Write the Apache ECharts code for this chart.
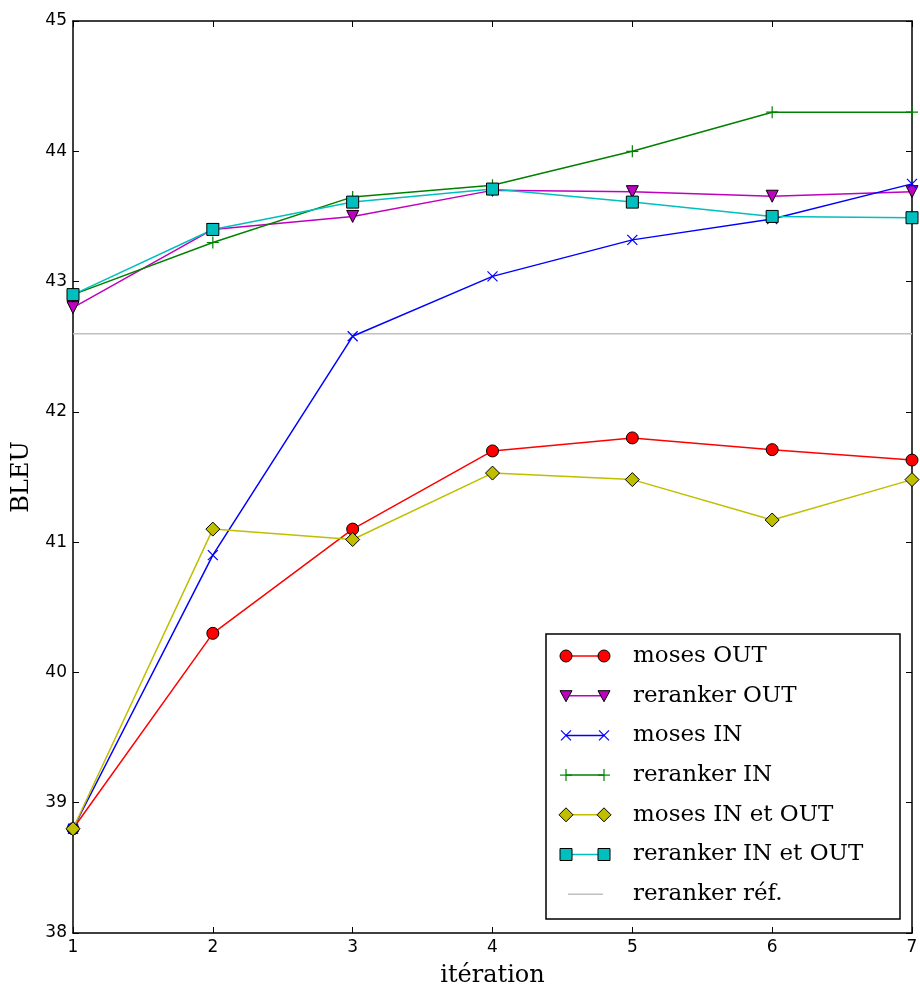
<!DOCTYPE html>
<html>
<head>
<meta charset="utf-8">
<script src="https://cdn.jsdelivr.net/npm/echarts@6/dist/echarts.min.js"></script>
<style>html,body{margin:0;padding:0;background:#fff}#c{width:920px;height:994px}</style>
</head>
<body>
<div id="c"></div>
<script>
const iterations = [1, 2, 3, 4, 5, 6, 7];
const mosesOut = [38.8, 40.3, 41.1, 41.7, 41.8, 41.71, 41.63];
const rerankerOut = [42.8, 43.4, 43.5, 43.7, 43.69, 43.655, 43.69];
const mosesIn = [38.8, 40.9, 42.58, 43.04, 43.32, 43.48, 43.75];
const rerankerIn = [42.9, 43.3, 43.65, 43.74, 44.0, 44.3, 44.3];
const mosesInOut = [38.8, 41.1, 41.02, 41.53, 41.48, 41.17, 41.48];
const rerankerInOut = [42.9, 43.4, 43.61, 43.71, 43.61, 43.5, 43.49];
const rerankerRef = [42.6, 42.6, 42.6, 42.6, 42.6, 42.6, 42.6];
const seriesNames = ['moses OUT', 'reranker OUT', 'moses IN', 'reranker IN', 'moses IN et OUT', 'reranker IN et OUT', 'reranker réf.'];
const xTitle = 'itération';
const yTitle = 'BLEU';

const styles = [
  {color: '#ff0000', symbol: 'circle', size: 12, kind: 'circle'},
  {color: '#bf00bf', symbol: 'triangle', size: 12, rotate: 180, kind: 'tri'},
  {color: '#0000ff', symbol: 'path://M0,0L10,10M10,0L0,10', size: 10, kind: 'x', stroke: true},
  {color: '#008000', symbol: 'path://M5,0L5,10M0,5L10,5', size: 12, kind: 'plus', stroke: true},
  {color: '#bfbf00', symbol: 'diamond', size: 14, kind: 'diamond'},
  {color: '#00bfbf', symbol: 'rect', size: 12, kind: 'square'},
  {color: '#c0c0c0', symbol: 'none', size: 0, kind: 'none'}
];
const dataSets = [mosesOut, rerankerOut, mosesIn, rerankerIn, mosesInOut, rerankerInOut, rerankerRef];

const series = dataSets.map((arr, i) => {
  const s = styles[i];
  return {
    name: seriesNames[i],
    type: 'line',
    data: arr.map((v, j) => [iterations[j], v]),
    symbol: s.symbol,
    symbolSize: s.size,
    symbolRotate: s.rotate || 0,
    showSymbol: s.symbol !== 'none',
    lineStyle: {color: s.color, width: 1.5},
    itemStyle: s.stroke ? {color: s.color, borderColor: s.color, borderWidth: 1.2}
                        : {color: s.color, borderColor: '#000', borderWidth: 1},
    emphasis: {disabled: true},
    z: i === 6 ? 1 : 2 + i,
    animation: false
  };
});

// legend drawn with graphic elements
const lgX = 546, lgY = 634, lgW = 354, lgH = 285;
const rowY0 = 656, rowStep = 39.7, x1 = 566, x2 = 604, tx = 633;
const g = [{type: 'rect', shape: {x: lgX, y: lgY, width: lgW, height: lgH}, style: {fill: '#fff', stroke: '#000', lineWidth: 1.5}, z: 100}];
function marker(kind, cx, cy, color) {
  const base = {fill: color, stroke: '#000', lineWidth: 1};
  if (kind === 'circle') return [{type: 'circle', shape: {cx, cy, r: 6}, style: base, z: 102}];
  if (kind === 'tri') return [{type: 'polygon', shape: {points: [[cx - 6, cy - 5], [cx + 6, cy - 5], [cx, cy + 6]]}, style: base, z: 102}];
  if (kind === 'diamond') return [{type: 'polygon', shape: {points: [[cx, cy - 7], [cx + 7, cy], [cx, cy + 7], [cx - 7, cy]]}, style: base, z: 102}];
  if (kind === 'square') return [{type: 'rect', shape: {x: cx - 6, y: cy - 6, width: 12, height: 12}, style: base, z: 102}];
  if (kind === 'x') return [
    {type: 'line', shape: {x1: cx - 5, y1: cy - 5, x2: cx + 5, y2: cy + 5}, style: {stroke: color, lineWidth: 1.2}, z: 102},
    {type: 'line', shape: {x1: cx - 5, y1: cy + 5, x2: cx + 5, y2: cy - 5}, style: {stroke: color, lineWidth: 1.2}, z: 102}];
  if (kind === 'plus') return [
    {type: 'line', shape: {x1: cx - 6, y1: cy, x2: cx + 6, y2: cy}, style: {stroke: color, lineWidth: 1.2}, z: 102},
    {type: 'line', shape: {x1: cx, y1: cy - 6, x2: cx, y2: cy + 6}, style: {stroke: color, lineWidth: 1.2}, z: 102}];
  return [];
}
seriesNames.forEach((name, i) => {
  const cy = rowY0 + i * rowStep;
  const s = styles[i];
  g.push({type: 'line', shape: {x1: s.kind === 'none' ? 568 : x1, y1: cy, x2: s.kind === 'none' ? 603 : x2, y2: cy}, style: {stroke: s.color, lineWidth: 1.5}, z: 101});
  marker(s.kind, x1, cy, s.color).forEach(e => g.push(e));
  marker(s.kind, x2, cy, s.color).forEach(e => g.push(e));
  g.push({type: 'text', x: tx, y: cy, style: {text: name, fill: '#000', font: '23px "DejaVu Serif"', verticalAlign: 'middle'}, z: 102});
});

const axisLabel = {color: '#000', fontFamily: 'DejaVu Sans', fontSize: 17};
const chart = echarts.init(document.getElementById('c'), null, {renderer: 'canvas'});
chart.setOption({
  animation: false,
  backgroundColor: '#fff',
  grid: {left: 73, right: 8, top: 21, bottom: 61, containLabel: false, outerBoundsMode: 'none'},
  xAxis: [
    {type: 'value', min: 1, max: 7, interval: 1, position: 'bottom',
     name: xTitle, nameLocation: 'middle', nameGap: 31,
     nameTextStyle: {fontFamily: 'DejaVu Serif', fontSize: 24, color: '#000'},
     axisLine: {lineStyle: {color: '#000', width: 1.5}},
     axisTick: {inside: true, length: 6, lineStyle: {color: '#000'}},
     axisLabel: Object.assign({margin: 6}, axisLabel),
     splitLine: {show: false}},
    {type: 'value', min: 1, max: 7, interval: 1, position: 'top',
     axisLine: {lineStyle: {color: '#000', width: 1.5}},
     axisTick: {inside: true, length: 6, lineStyle: {color: '#000'}},
     axisLabel: {show: false}, splitLine: {show: false}}
  ],
  yAxis: [
    {type: 'value', min: 38, max: 45, interval: 1, position: 'left',
     name: yTitle, nameLocation: 'middle', nameGap: 39, nameRotate: 90,
     nameTextStyle: {fontFamily: 'DejaVu Serif', fontSize: 24, color: '#000'},
     axisLine: {show: true, lineStyle: {color: '#000', width: 1.5}},
     axisTick: {show: true, inside: true, length: 6, lineStyle: {color: '#000'}},
     axisLabel: Object.assign({margin: 6}, axisLabel),
     splitLine: {show: false}},
    {type: 'value', min: 38, max: 45, interval: 1, position: 'right',
     axisLine: {show: true, lineStyle: {color: '#000', width: 1.5}},
     axisTick: {show: true, inside: true, length: 6, lineStyle: {color: '#000'}},
     axisLabel: {show: false}, splitLine: {show: false}}
  ],
  series: series,
  graphic: g
});
</script>
</body>
</html>
